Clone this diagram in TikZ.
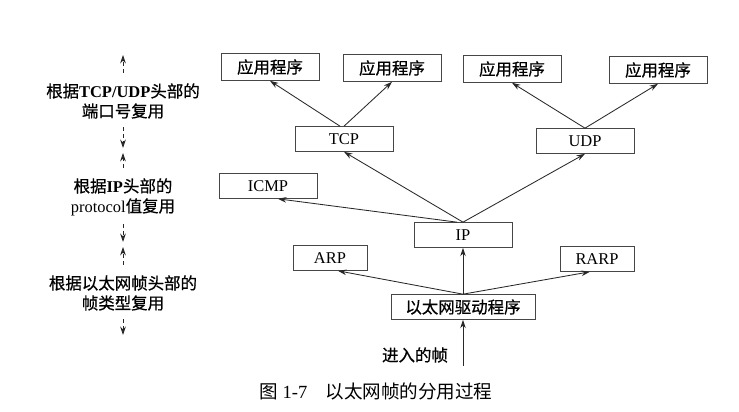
\documentclass[tikz,border=0pt]{standalone}
\usepackage{fontspec}
\setmainfont{Liberation Serif}
\newfontfamily\cjk{Noto Sans CJK SC}[FakeBold=0.7]
\newfontfamily\cjklight{Noto Sans CJK SC}
\usepackage{tikz}
\usetikzlibrary{arrows.meta, positioning, calc}
\definecolor{mydark}{RGB}{40,40,40}
\definecolor{myframe}{RGB}{70,70,70}
\tikzset{
  box/.style={rectangle, draw=myframe, fill=white,
    minimum width=2.45cm, minimum height=0.62cm,
    inner sep=1pt, line width=0.6pt},
  appbox/.style={box, minimum height=0.67cm},
  smallbox/.style={box, minimum width=1.85cm},
  arrow/.style={-{Stealth[length=6pt,width=4pt]}, line width=0.6pt, color=mydark},
  dasharrow/.style={arrow, dash pattern=on 3pt off 2pt, line width=0.6pt},
  layerlabel/.style={align=center, inner sep=0pt}
}

\begin{document}
\begin{tikzpicture}[x=0.025cm, y=-0.025cm,
  every node/.style={font=\fontsize{11.7}{14.2}\selectfont}]
  \useasboundingbox[fill=white] (0,0) rectangle (739,412);

  % protocol boxes
  \node[appbox] (app1) at (270,67) {\cjk 应用程序};
  \node[appbox] (app2) at (392,68) {\cjk 应用程序};
  \node[appbox] (app3) at (512,69) {\cjk 应用程序};
  \node[appbox] (app4) at (658,70) {\cjk 应用程序};
  \node[box] (tcp) at (344,139) {TCP};
  \node[box] (udp) at (585,141) {UDP};
  \node[box] (icmp) at (268,186) {ICMP};
  \node[box] (ip) at (463,235) {IP};
  \node[smallbox] (arp) at (330,258) {ARP};
  \node[smallbox] (rarp) at (597,259) {RARP};
  \node[box, minimum width=3.6cm] (drv) at (463,307) {\cjk 以太网驱动程序};
  \coordinate (frame) at (463,366);
  \node (framelbl) at (415,355) {\cjk 进入的帧};

  \draw[arrow] (frame) -- (drv.south);
  \draw[arrow] (drv.north) -- (ip.south);
  \draw[arrow] (drv.north) -- ([xshift=0.2cm]arp.south);
  \draw[arrow] (drv.north) -- ([xshift=-0.18cm]rarp.south);
  \draw[arrow] ([xshift=-0.15cm]ip.north) -- ([xshift=0.25cm]icmp.south);
  \draw[arrow] (ip.north) -- (tcp.south);
  \draw[arrow] (ip.north) -- (udp.south);
  \draw[arrow] ([xshift=-0.1cm]tcp.north) -- (app1.south);
  \draw[arrow] (tcp.north) -- (app2.south);
  \draw[arrow] (udp.north) -- (app3.south);
  \draw[arrow] (udp.north) -- (app4.south);

  % demultiplexing layers on the left
  \node[layerlabel] (lay1) at (123,101)
    {{\cjk 根据}\textbf{TCP/UDP}{\cjk 头部的}\\{\cjk 端口号复用}};
  \node[layerlabel] (lay2) at (123,197)
    {{\cjk 根据}\textbf{IP}{\cjk 头部的}\\protocol{\cjk 值复用}};
  \node[layerlabel] (lay3) at (123,293)
    {{\cjk 根据以太网帧头部的}\\{\cjk 帧类型复用}};
  \coordinate (up1) at (123,55);
  \coordinate (dn1) at (123,148);
  \coordinate (up2) at (123,153);
  \coordinate (dn2) at (123,242);
  \coordinate (up3) at (123,247);
  \coordinate (dn3) at (123,335);
  \draw[dasharrow, shorten <=2.5mm] (lay1.north) -- (up1);
  \draw[dasharrow, shorten <=2mm] (lay1.south) -- (dn1);
  \draw[dasharrow, shorten <=2.5mm] (lay2.north) -- (up2);
  \draw[dasharrow, shorten <=2mm] (lay2.south) -- (dn2);
  \draw[dasharrow, shorten <=2.5mm] (lay3.north) -- (up3);
  \draw[dasharrow, shorten <=2mm] (lay3.south) -- (dn3);

  \node[font=\fontsize{13.2}{15}\selectfont] (caption) at (376,391)
    {{\cjklight 图} 1-7\hspace{0.45cm}{\cjklight 以太网帧的分用过程}};
\end{tikzpicture}
\end{document}
